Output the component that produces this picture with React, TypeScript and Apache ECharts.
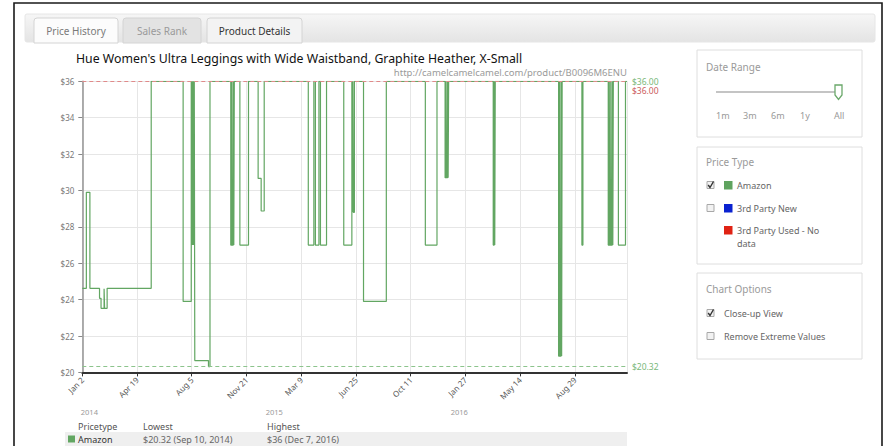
import React, { useEffect, useRef } from "react";
import * as echarts from "echarts";

// Day offsets are counted from Jan 2, 2014 (day 0); prices in USD.
const priceHistory: [number, number][] = [
  [0, 24.62], [8, 29.9], [15, 24.62], [34, 24.07], [37, 23.52], [43, 24.6], [44, 23.52], [49, 24.62],
  [136, 36], [199, 23.9], [215, 36], [216, 27], [217, 36], [218, 27], [219, 36], [220, 27], [221, 36],
  [222, 20.65], [249, 20.32], [252, 36],
  [293, 27], [295, 36], [296, 27], [298, 36], [299, 27], [300, 36],
  [311, 27], [328, 36], [347, 30.66], [353, 28.87], [359, 36],
  [446, 27], [457, 36], [460, 27], [467, 36], [470, 27], [482, 36],
  [516, 27], [532, 36], [533, 28.8], [534, 36], [535, 28.8], [537, 36],
  [555, 23.9], [600, 36],
  [677, 27], [700, 36],
  [716, 30.7], [718, 36], [719, 30.7], [721, 36], [722, 30.7], [723, 36],
  [811, 27], [813, 36], [814, 27], [815, 36],
  [940, 20.9], [942, 36], [943, 20.9], [945, 36], [946, 20.9], [947, 36],
  [986, 27], [988, 36],
  [1038, 27], [1040, 36], [1041, 27], [1043, 36], [1044, 27], [1046, 36], [1047, 27], [1048, 36],
  [1058, 27], [1072, 36], [1075, 36],
];

const tickLabels = ["Jan 2", "Apr 19", "Aug 5", "Nov 21", "Mar 9", "Jun 25", "Oct 11", "Jan 27", "May 14", "Aug 29"];
const tickStep = 108;
const lastDay = 1075;
const yearNames = ["2014", "2015", "2016"];
const yearStartDays = [-1, 364, 729];

const currentPrice = 36;
const highestPrice = 36;
const lowestPrice = 20.32;

const priceTypes = ["Amazon", "3rd Party New", "3rd Party Used - No"];
const priceTypeColors = ["#5fa35f", "#0a22d0", "#e02214"];
const dateRanges = ["1m", "3m", "6m", "1y", "All"];
const tabs = ["Price History", "Sales Rank", "Product Details"];

const FONT = "'Noto Sans', 'DejaVu Sans', sans-serif";
const GREEN = "#62a662";

function txt(x: number, y: number, text: string, fill: string, size: number, extra: any = {}) {
  return {
    type: "text",
    x,
    y,
    silent: true,
    style: { text, fill, fontSize: size, fontFamily: FONT, verticalAlign: "middle", align: "left", ...extra },
  };
}

function checkbox(x: number, y: number, checked: boolean) {
  const els: any[] = [
    { type: "rect", shape: { x, y: y - 3.5, width: 7, height: 7 }, style: { fill: "#f2f2f2", stroke: "#a8a8a8", lineWidth: 1 } },
  ];
  if (checked) {
    els.push({
      type: "polyline",
      shape: { points: [[x + 1.2, y], [x + 3, y + 2.5], [x + 6.5, y - 3.5]] },
      style: { stroke: "#333", lineWidth: 1.4, fill: null },
    });
  }
  return els;
}

export default function App() {
  const ref = useRef<HTMLDivElement>(null);
  useEffect(() => {
    if (!ref.current) return;
    const chart = echarts.init(ref.current, null, { renderer: "svg" });
    chart.setOption({
      animation: false,
      grid: { left: 82.3, right: 258, top: 81.3, bottom: 73.6 },
      xAxis: {
        type: "value",
        min: 0,
        max: lastDay,
        interval: tickStep,
        axisLine: { show: true, lineStyle: { color: "#333", width: 2 } },
        axisTick: { show: true, length: 4, lineStyle: { color: "#333" } },
        splitLine: { show: true, lineStyle: { color: "#e6e6e6", width: 1 } },
        axisLabel: {
          rotate: 45,
          margin: 6,
          color: "#555",
          fontSize: 8,
          fontFamily: FONT,
          showMaxLabel: false,
          formatter: (v: number) => {
            const i = Math.round(v / tickStep);
            return Math.abs(i * tickStep - v) < 0.01 && tickLabels[i] ? tickLabels[i] : "";
          },
        },
      },
      yAxis: {
        type: "value",
        min: 20,
        max: 36,
        interval: 2,
        axisLine: { show: true, lineStyle: { color: "#9a9a9a", width: 1.6 } },
        axisTick: { show: true, length: 4, lineStyle: { color: "#888" } },
        splitLine: { show: true, lineStyle: { color: "#e6e6e6", width: 1 } },
        axisLabel: { margin: 8, color: "#777", fontSize: 8, fontFamily: FONT, formatter: (v: number) => "$" + v },
      },
      series: [
        {
          type: "line",
          step: "end",
          showSymbol: false,
          data: priceHistory,
          lineStyle: { color: GREEN, width: 1.2 },
          z: 3,
          markLine: {
            silent: true,
            symbol: "none",
            label: { show: false },
            data: [
              { yAxis: highestPrice, lineStyle: { color: "#e08a8a", type: [4, 3], width: 1 } },
              { yAxis: lowestPrice, lineStyle: { color: "#8cc48c", type: [4, 3], width: 1 } },
            ],
          },
        },
      ],
    });

    const right = chart.convertToPixel({ gridIndex: 0 }, [lastDay, currentPrice]) as number[];
    const lowP = chart.convertToPixel({ gridIndex: 0 }, [lastDay, lowestPrice]) as number[];
    const highP = chart.convertToPixel({ gridIndex: 0 }, [lastDay, highestPrice]) as number[];

    const g: any[] = [];
    // outer frame
    g.push({ type: "rect", shape: { x: 14, y: 3, width: 868, height: 470 }, style: { fill: null, stroke: "#1a1a1a", lineWidth: 1.6 }, silent: true });
    // tab bar
    g.push({
      type: "rect",
      shape: { x: 25, y: 14, width: 850, height: 28, r: 2 },
      style: {
        fill: new echarts.graphic.LinearGradient(0, 0, 0, 1, [
          { offset: 0, color: "#f6f6f6" },
          { offset: 1, color: "#e4e4e4" },
        ]),
        stroke: "#e6e6e6",
      },
      silent: true,
    });
    const tabBoxes = [[34, 84], [123, 78], [207, 95]];
    const tabFill = ["#fcfcfc", "#e3e3e3", "#f3f3f3"];
    const tabText = ["#7a7a7a", "#9a9a9a", "#333"];
    tabs.forEach((t, i) => {
      const [x, w] = tabBoxes[i];
      g.push({ type: "rect", shape: { x, y: 18, width: w, height: 25, r: [3, 3, 0, 0] }, style: { fill: tabFill[i], stroke: "#d4d4d4", lineWidth: 1 }, silent: true });
      g.push(txt(x + w / 2, 31, t, tabText[i], 10, { align: "center" }));
    });

    // title and url
    g.push(txt(76, 58, "Hue Women's Ultra Leggings with Wide Waistband, Graphite Heather, X-Small", "#111", 12.3));
    g.push(txt(right[0], 72, "http://camelcamelcamel.com/product/B0096M6ENU", "#9a9a9a", 9.5, { align: "right" }));

    // right side labels
    g.push(txt(right[0] + 5, right[1], "$36.00", "#79b879", 8.5));
    g.push(txt(highP[0] + 5, highP[1] + 9.5, "$36.00", "#cc5b5b", 8.5));
    g.push(txt(lowP[0] + 5, lowP[1], "$20.32", "#79b879", 8.5));

    // year labels
    yearNames.forEach((y, i) => {
      const p = chart.convertToPixel({ gridIndex: 0 }, [yearStartDays[i], 20]) as number[];
      g.push(txt(p[0] - 1, 412, y, "#9a9a9a", 7.5));
    });

    // summary table
    g.push({ type: "rect", shape: { x: 65, y: 432, width: 562, height: 16 }, style: { fill: "#efefef" }, silent: true });
    g.push(txt(78, 426, "Pricetype", "#555", 9));
    g.push(txt(143, 426, "Lowest", "#555", 9));
    g.push(txt(267, 426, "Highest", "#555", 9));
    g.push({ type: "rect", shape: { x: 68, y: 435.5, width: 7, height: 7 }, style: { fill: GREEN }, silent: true });
    g.push(txt(78, 439, "Amazon", "#333", 9));
    g.push(txt(143, 439, "$20.32 (Sep 10, 2014)", "#666", 9));
    g.push(txt(267, 439, "$36 (Dec 7, 2016)", "#666", 9));

    // side panels
    const panels = [[50, 87], [147, 117], [273, 86]];
    panels.forEach(([y, h]) => {
      g.push({ type: "rect", shape: { x: 697, y, width: 165, height: h }, style: { fill: "#fff", stroke: "#dedede", lineWidth: 1 }, silent: true });
    });
    g.push(txt(706, 67, "Date Range", "#9a9a9a", 10));
    g.push({ type: "line", shape: { x1: 716, y1: 92, x2: 839, y2: 92 }, style: { stroke: "#b0b0b0", lineWidth: 1.5 }, silent: true });
    g.push({
      type: "polygon",
      shape: { points: [[835, 85], [842, 85], [842, 95], [838.5, 99.5], [835, 95]] },
      style: { fill: "#fff", stroke: "#6aa86a", lineWidth: 1.3 },
      silent: true,
    });
    const drX = [716, 743, 771, 800, 834];
    dateRanges.forEach((d, i) => g.push(txt(drX[i], 115, d, "#999", 9)));

    g.push(txt(706, 162, "Price Type", "#9a9a9a", 10));
    const ptY = [185, 208, 230];
    priceTypes.forEach((p, i) => {
      if (i < 2) g.push(...checkbox(707, ptY[i], i === 0));
      g.push({ type: "rect", shape: { x: 724, y: ptY[i] - 4, width: 8.5, height: 8.5 }, style: { fill: priceTypeColors[i] }, silent: true });
      g.push(txt(737, ptY[i], p, "#666", 9));
    });
    g.push(txt(737, 243, "data", "#666", 9));

    g.push(txt(706, 289, "Chart Options", "#9a9a9a", 10));
    g.push(...checkbox(707, 313, true));
    g.push(txt(724, 313, "Close-up View", "#666", 9));
    g.push(...checkbox(707, 336, false));
    g.push(txt(724, 336, "Remove Extreme Values", "#666", 9));

    chart.setOption({ graphic: g });
    return () => chart.dispose();
  }, []);
  return <div ref={ref} style={{ position: "absolute", left: 0, top: 0, width: 885, height: 446, background: "#fff" }} />;
}
